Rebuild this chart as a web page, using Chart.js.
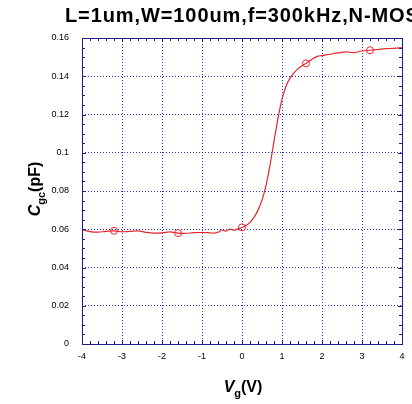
<!DOCTYPE html>
<html>
<head>
<meta charset="utf-8">
<script src="https://cdn.jsdelivr.net/npm/chart.js@4.4.0/dist/chart.umd.min.js"></script>
<style>
  html, body { margin: 0; padding: 0; background: #fff; }
  #wrap { width: 412px; height: 404px; }
</style>
</head>
<body>
<div id="wrap"><canvas id="myChart" width="412" height="404"></canvas></div>
<script>
// C-V measurement, gate voltage sweep
const vg = [-4, -3.8, -3.6, -3.4, -3.2, -3.0, -2.8, -2.6, -2.4, -2.2, -2.0, -1.8, -1.6, -1.4, -1.2, -1.0,
  -0.8, -0.7, -0.6, -0.5, -0.4, -0.3, -0.2, -0.1, 0, 0.1, 0.2, 0.3, 0.4, 0.5, 0.6, 0.7, 0.8, 0.9,
  1.0, 1.1, 1.2, 1.3, 1.4, 1.5, 1.6, 1.7, 1.8, 1.9, 2.0, 2.2, 2.4, 2.6, 2.8, 3.0, 3.2, 3.4, 3.6, 3.8, 4.0];
const cgc = [0.0598, 0.0588, 0.0585, 0.0589, 0.0591, 0.0587, 0.0589, 0.0591, 0.0584, 0.0580, 0.0581,
  0.0586, 0.0580, 0.0579, 0.0582, 0.0583, 0.0581, 0.0580, 0.0584, 0.0596, 0.0590, 0.0601, 0.0595,
  0.0602, 0.0609, 0.0619, 0.0636, 0.0662, 0.0700, 0.0752, 0.0830, 0.0935, 0.1060, 0.1180, 0.1280,
  0.1348, 0.1390, 0.1418, 0.1440, 0.1455, 0.1467, 0.1482, 0.1495, 0.1505, 0.1508, 0.1515, 0.1522,
  0.1527, 0.1524, 0.1532, 0.1536, 0.1540, 0.1544, 0.1546, 0.1550];

// open circle markers
const markerVg = [-3.2, -1.6, 0, 1.6, 3.2];
const markerCgc = [0.0592, 0.0580, 0.0610, 0.1467, 0.1536];

const xTicks = [-4, -3, -2, -1, 0, 1, 2, 3, 4];
const yTicks = [0, 0.02, 0.04, 0.06, 0.08, 0.1, 0.12, 0.14, 0.16];

const titleText = 'L=1um,W=100um,f=300kHz,N-MOS';

const lineColor = '#e3262b';
const navy = '#1c1c8e';
const gridBlue = '#2f2fcf';

const frameTitlesPlugin = {
  id: 'frameTitles',
  afterDraw(chart) {
    const { ctx, chartArea: a, scales } = chart;
    const xs = scales.x, ys = scales.y;
    ctx.save();

    // frame
    ctx.strokeStyle = navy;
    ctx.lineWidth = 1;
    ctx.strokeRect(Math.round(a.left) + 0.5, Math.round(a.top) + 0.5,
      Math.round(a.right - a.left), Math.round(a.bottom - a.top));

    // inward ticks on all sides
    ctx.beginPath();
    for (let v = -4; v <= 4.001; v += 0.2) {
      const px = Math.round(xs.getPixelForValue(v)) + 0.5;
      const major = Math.abs(v - Math.round(v)) < 1e-6;
      const len = major ? 4 : 3;
      ctx.moveTo(px, a.bottom); ctx.lineTo(px, a.bottom - len);
      ctx.moveTo(px, a.top); ctx.lineTo(px, a.top + len);
    }
    for (let i = 0; i <= 32; i++) {
      const v = i * 0.005;
      const py = Math.round(ys.getPixelForValue(v)) + 0.5;
      const len = i % 4 === 0 ? 4 : 3;
      ctx.moveTo(a.left, py); ctx.lineTo(a.left + len, py);
      ctx.moveTo(a.right, py); ctx.lineTo(a.right - len, py);
    }
    ctx.stroke();

    // title
    ctx.fillStyle = '#000';
    ctx.font = 'bold 20px "Liberation Sans", Arial, sans-serif';
    ctx.letterSpacing = '0.9px';
    ctx.textAlign = 'left';
    ctx.textBaseline = 'alphabetic';
    ctx.fillText(titleText, 65, 22);
    ctx.letterSpacing = '0px';

    const big = 'bold 16px "Liberation Sans", Arial, sans-serif';
    const bigIt = 'italic bold 16px "Liberation Sans", Arial, sans-serif';
    const sub = 'bold 11px "Liberation Sans", Arial, sans-serif';

    const drawLabel = (parts, cx, baseY) => {
      let total = 0;
      parts.forEach(p => { ctx.font = p.font; p.w = ctx.measureText(p.text).width; total += p.w; });
      let x = cx - total / 2;
      parts.forEach(p => {
        ctx.font = p.font;
        ctx.fillText(p.text, x, baseY + p.dy);
        x += p.w;
      });
    };

    // x axis label
    drawLabel([
      { text: 'V', font: bigIt, dy: 0 },
      { text: 'g', font: sub, dy: 5 },
      { text: '(V)', font: big, dy: 0 },
    ], 243, 392);

    // y axis label
    ctx.save();
    ctx.translate(40, 189);
    ctx.rotate(-Math.PI / 2);
    drawLabel([
      { text: 'C', font: bigIt, dy: 0 },
      { text: 'gc', font: sub, dy: 5 },
      { text: '(pF)', font: big, dy: 0 },
    ], 0, 0);
    ctx.restore();

    ctx.restore();
  },
};

new Chart(document.getElementById('myChart'), {
  type: 'line',
  data: {
    datasets: [
      {
        data: vg.map((v, i) => ({ x: v, y: cgc[i] })),
        borderColor: lineColor,
        borderWidth: 1.2,
        pointRadius: 0,
        tension: 0.4,
        fill: false,
      },
      {
        data: markerVg.map((v, i) => ({ x: v, y: markerCgc[i] })),
        showLine: false,
        pointRadius: 3.5,
        pointBorderWidth: 1,
        pointBorderColor: lineColor,
        pointBackgroundColor: 'rgba(0,0,0,0)',
      },
    ],
  },
  options: {
    responsive: false,
    animation: false,
    layout: { padding: { top: 38, right: 10, left: 0, bottom: 0 } },
    plugins: {
      legend: { display: false },
      tooltip: { enabled: false },
    },
    scales: {
      x: {
        type: 'linear',
        min: -4,
        max: 4,
        afterFit: (s) => { s.height = 60; },
        afterBuildTicks: (s) => { s.ticks = xTicks.map(v => ({ value: v })); },
        ticks: {
          color: '#000',
          font: { size: 9, family: '"Liberation Sans", Arial, sans-serif' },
          padding: 7,
          callback: (v) => String(v),
        },
        grid: { color: gridBlue, lineWidth: 1, drawTicks: false },
        border: { display: false, dash: [1, 2] },
      },
      y: {
        min: 0,
        max: 0.16,
        afterFit: (s) => { s.width = 82; },
        afterBuildTicks: (s) => { s.ticks = yTicks.map(v => ({ value: v })); },
        ticks: {
          color: '#000',
          font: { size: 9, family: '"Liberation Sans", Arial, sans-serif' },
          padding: 13,
          callback: (v) => String(+v.toFixed(2)),
        },
        grid: { color: gridBlue, lineWidth: 1, drawTicks: false },
        border: { display: false, dash: [1, 2] },
      },
    },
  },
  plugins: [frameTitlesPlugin],
});
</script>
</body>
</html>
